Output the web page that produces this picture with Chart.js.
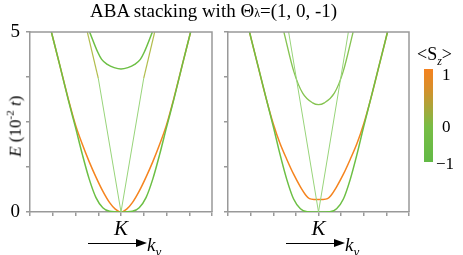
<!DOCTYPE html>
<html>
<head>
<meta charset="utf-8">
<script src="https://cdn.jsdelivr.net/npm/chart.js@4/dist/chart.umd.min.js"></script>
<style>
body { margin: 0; width: 463px; height: 255px; position: relative; overflow: hidden; background: #fff; color: #000; }
canvas { position: absolute; left: 0; top: 0; }
.txt { position: absolute; white-space: nowrap; font-family: 'Liberation Serif', 'Times New Roman', serif; line-height: 1; }
.arrow { position: absolute; height: 1px; background: #000; }
.head { position: absolute; width: 0; height: 0; border-top: 4px solid transparent; border-bottom: 4px solid transparent; border-left: 11px solid #000; }
</style>
</head>
<body>
<canvas id="leftPanel" width="463" height="255"></canvas>
<canvas id="rightPanel" width="463" height="255"></canvas>

<div class="txt" style="left:90px; top:1px; font-size:19px;">ABA stacking with &Theta;<span style="font-size:12px">&lambda;</span>=(1, 0, -1)</div>
<div class="txt" style="left:-26px; top:117px; width:80px; text-align:center; font-size:17px; transform:rotate(-90deg);"><i>E</i> (10<sup style="font-size:11px">-2</sup> <i>t</i>)</div>

<div class="arrow" style="left:88px; top:243px; width:50px;"></div>
<div class="head" style="left:136px; top:239px;"></div>
<div class="txt" style="left:147px; top:235px; font-size:19px; font-style:italic;">k<sub style="font-size:13px">y</sub></div>

<div class="arrow" style="left:286px; top:243px; width:50px;"></div>
<div class="head" style="left:334px; top:239px;"></div>
<div class="txt" style="left:345px; top:235px; font-size:19px; font-style:italic;">k<sub style="font-size:13px">y</sub></div>

<div class="txt" style="left:417px; top:45px; font-size:18px;">&lt;S<sub style="font-size:12px; font-style:italic;">z</sub>&gt;</div>
<div style="position:absolute; left:424px; top:69px; width:9px; height:93px; background:linear-gradient(#f5821f 0%, #d98e2a 20%, #a8a63a 42%, #78bd45 62%, #62b946 100%);"></div>
<div class="txt" style="left:442px; top:66px; font-size:17px;">1</div>
<div class="txt" style="left:442px; top:118px; font-size:17px;">0</div>
<div class="txt" style="left:436px; top:155px; font-size:17px;">&minus;1</div>

<script>
// band data, k in the x direction, E in 10^-2 t
// left panel
var kLeftOuter = [-3.06, -2.7, -2.32, -2.0, -1.7, -1.4, -1.1, -0.8, -0.5, 0, 0.5, 0.8, 1.1, 1.4, 1.7, 2.0, 2.32, 2.7, 3.06];
var eLeftOuter = [5, 4.1, 3.12, 2.35, 1.6, 0.92, 0.4, 0.12, 0.02, 0, 0.02, 0.12, 0.4, 0.92, 1.6, 2.35, 3.12, 4.1, 5];
var kLeftOrange = [-3.06, -2.7, -2.32, -2.0, -1.7, -1.4, -1.1, -0.8, -0.5, -0.25, 0, 0.25, 0.5, 0.8, 1.1, 1.4, 1.7, 2.0, 2.32, 2.7, 3.06];
var eLeftOrange = [5, 4.1, 3.15, 2.42, 1.88, 1.4, 0.97, 0.58, 0.26, 0.08, 0, 0.08, 0.26, 0.58, 0.97, 1.4, 1.88, 2.42, 3.15, 4.1, 5];
var kLeftV = [-1.0, 0, 1.0];
var eLeftV = [3.72, 0, 3.72];
var kLeftVTopL = [-1.48, -1.0];
var kLeftVTopR = [1.0, 1.48];
var eLeftVTopL = [5, 3.72];
var eLeftVTopR = [3.72, 5];
var kLeftUpper = [-1.38, -1.03, -0.85, -0.6, -0.3, 0, 0.3, 0.6, 0.85, 1.03, 1.38];
var eLeftUpper = [5, 4.45, 4.24, 4.1, 4.01, 3.97, 4.01, 4.1, 4.24, 4.45, 5];

// right panel
var kRightOuter = [-3.05, -2.7, -2.3, -2.0, -1.7, -1.4, -1.1, -0.8, -0.5, 0, 0.5, 0.8, 1.1, 1.4, 1.7, 2.0, 2.3, 2.7, 3.05];
var eRightOuter = [5, 4.12, 3.12, 2.38, 1.6, 0.9, 0.36, 0.09, 0.005, 0, 0.005, 0.09, 0.36, 0.9, 1.6, 2.38, 3.12, 4.12, 5];
var kRightOrange = [-3.05, -2.7, -2.3, -2.0, -1.7, -1.4, -1.1, -0.8, -0.55, -0.4, -0.2, 0, 0.2, 0.4, 0.55, 0.8, 1.1, 1.4, 1.7, 2.0, 2.3, 2.7, 3.05];
var eRightOrange = [5, 4.12, 3.12, 2.45, 1.9, 1.46, 1.05, 0.7, 0.46, 0.37, 0.35, 0.35, 0.35, 0.37, 0.46, 0.7, 1.05, 1.46, 1.9, 2.45, 3.12, 4.12, 5];
var kRightV = [-1.32, 0, 1.32];
var eRightV = [5, 0, 5];
var kRightUpper = [-1.53, -1.09, -0.7, -0.26, 0, 0.26, 0.7, 1.09, 1.53];
var eRightUpper = [5, 3.9, 3.3, 3.03, 2.98, 3.03, 3.3, 3.9, 5];

var yTicks = [0, 5];

var green = "#6cbf44";
var orange = "#f5841f";
var lightGreen = "#98d47a";
var olive = "#b2bd4c";
var axisGray = "#999999";

function points(ks, es) {
    var out = [];
    for (var i = 0; i < ks.length; i++) {
        out.push({x: ks[i], y: es[i]});
    }
    return out;
}

function band(ks, es, color, width, smooth) {
    return {
        data: points(ks, es),
        borderColor: color,
        borderWidth: width,
        pointRadius: 0,
        fill: false,
        cubicInterpolationMode: smooth ? "monotone" : "default",
        tension: 0
    };
}

var framePlugin = {
    id: "frame",
    afterDraw: function(chart) {
        var a = chart.chartArea;
        var ctx = chart.ctx;
        ctx.save();
        ctx.strokeStyle = axisGray;
        ctx.lineWidth = 1.5;
        ctx.beginPath();
        ctx.moveTo(a.left, a.top);
        ctx.lineTo(a.right, a.top);
        ctx.lineTo(a.right, a.bottom);
        ctx.stroke();
        ctx.restore();
    }
};

function makePanel(id, datasets, yWidth, padRight, showY) {
    return new Chart(document.getElementById(id), {
        type: "line",
        data: {datasets: datasets},
        options: {
            responsive: false,
            animation: false,
            devicePixelRatio: 1,
            layout: {padding: {left: 0, top: 32, right: padRight, bottom: 0}},
            plugins: {legend: {display: false}, tooltip: {enabled: false}, title: {display: false}},
            scales: {
                x: {
                    type: "linear", min: -4, max: 4,
                    ticks: {
                        stepSize: 1, autoSkip: false, maxRotation: 0, padding: 1,
                        color: "#000",
                        font: {family: "Liberation Serif", size: 21, style: "italic"},
                        callback: function(v) { return v === 0 ? "K" : ""; }
                    },
                    grid: {drawOnChartArea: false, drawTicks: true, tickLength: 4, color: axisGray, lineWidth: 1.5},
                    border: {display: true, color: axisGray, width: 1.5},
                    afterFit: function(s) { s.height = 43; }
                },
                y: {
                    type: "linear", min: 0, max: 5,
                    ticks: {
                        stepSize: 1.25, padding: 6,
                        color: "#000",
                        font: {family: "Liberation Serif", size: 19},
                        callback: function(v) { return (showY && yTicks.indexOf(v) != -1) ? String(v) : ""; }
                    },
                    grid: {drawOnChartArea: false, drawTicks: true, tickLength: 4, color: axisGray, lineWidth: 1.5},
                    border: {display: true, color: axisGray, width: 1.5},
                    afterFit: function(s) { s.width = yWidth; }
                }
            }
        },
        plugins: [framePlugin]
    });
}

makePanel("leftPanel", [
    band(kLeftV, eLeftV, lightGreen, 1, false),
    band(kLeftVTopL, eLeftVTopL, olive, 1.2, false),
    band(kLeftVTopR, eLeftVTopR, olive, 1.2, false),
    band(kLeftUpper, eLeftUpper, green, 1.5, true),
    band(kLeftOuter, eLeftOuter, green, 1.5, true),
    band(kLeftOrange, eLeftOrange, orange, 1.5, true)
], 30, 251, true);

makePanel("rightPanel", [
    band(kRightV, eRightV, lightGreen, 1, false),
    band(kRightUpper, eRightUpper, "#86c452", 1.3, true),
    band(kRightOuter, eRightOuter, green, 1.5, true),
    band(kRightOrange, eRightOrange, orange, 1.5, true)
], 228, 54, false);
</script>
</body>
</html>
